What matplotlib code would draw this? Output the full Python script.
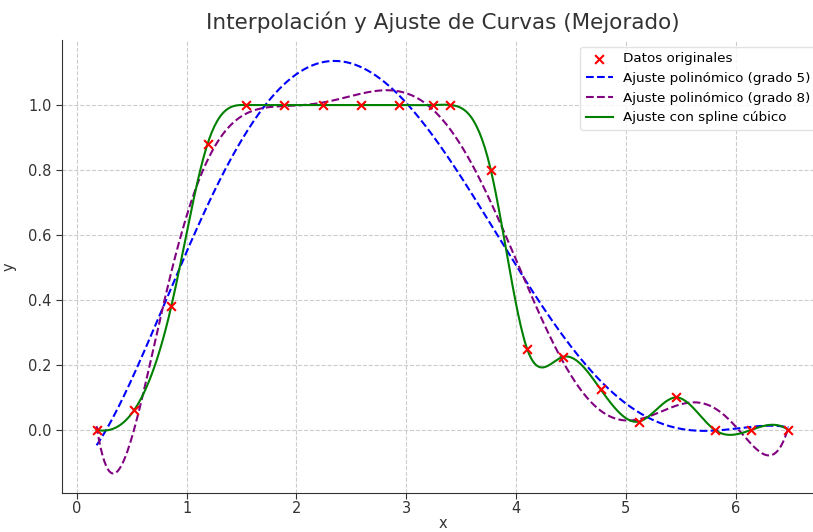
import numpy as np
import matplotlib
matplotlib.use("Agg")
import matplotlib.pyplot as plt

# Data
x_data = [0.18, 0.52, 0.86, 1.19, 1.54, 1.89, 2.24, 2.59, 2.93, 3.24,
          3.40, 3.77, 4.10, 4.43, 4.77, 5.12, 5.46, 5.81, 6.14, 6.48]
y_data = [0.0, 0.06, 0.38, 0.88, 1.0, 1.0, 1.0, 1.0, 1.0, 1.0,
          1.0, 0.80, 0.25, 0.225, 0.125, 0.026, 0.10, 0.0, 0.0, 0.0]
x_ticks = [0, 1, 2, 3, 4, 5, 6]
y_ticks = [0.0, 0.2, 0.4, 0.6, 0.8, 1.0]

x = np.array(x_data)
y = np.array(y_data)


def not_a_knot_spline(x, y, xs):
    n = len(x)
    dx = np.diff(x)
    slope = np.diff(y) / dx
    A = np.zeros((n, n))
    b = np.zeros(n)
    for i in range(1, n - 1):
        A[i, i - 1] = dx[i]
        A[i, i] = 2 * (dx[i - 1] + dx[i])
        A[i, i + 1] = dx[i - 1]
        b[i] = 3 * (dx[i] * slope[i - 1] + dx[i - 1] * slope[i])
    d = x[2] - x[0]
    A[0, 0] = dx[1]
    A[0, 1] = d
    b[0] = ((dx[0] + 2 * d) * dx[1] * slope[0] + dx[0] ** 2 * slope[1]) / d
    d = x[-1] - x[-3]
    A[-1, -1] = dx[-2]
    A[-1, -2] = d
    b[-1] = (dx[-1] ** 2 * slope[-2] + (2 * d + dx[-1]) * dx[-2] * slope[-1]) / d
    s = np.linalg.solve(A, b)
    idx = np.clip(np.searchsorted(x, xs) - 1, 0, n - 2)
    h = dx[idx]
    t = (xs - x[idx]) / h
    h00 = 2 * t**3 - 3 * t**2 + 1
    h10 = t**3 - 2 * t**2 + t
    h01 = -2 * t**3 + 3 * t**2
    h11 = t**3 - t**2
    return h00 * y[idx] + h10 * h * s[idx] + h01 * y[idx + 1] + h11 * h * s[idx + 1]


xs = np.linspace(x.min(), x.max(), 500)
p5 = np.polyval(np.polyfit(x, y, 5), xs)
p8 = np.polyval(np.polyfit(x, y, 8), xs)
sp = not_a_knot_spline(x, y, xs)

fig = plt.figure(figsize=(8.13, 5.32), dpi=100)
ax = fig.add_axes([62 / 813, 39 / 532, 761 / 813, 453 / 532])

ax.scatter(x, y, color="red", marker="x", s=40, linewidths=1.5, label="Datos originales", zorder=5)
ax.plot(xs, p5, "--", color="blue", lw=1.5, label="Ajuste polinómico (grado 5)")
ax.plot(xs, p8, "--", color="purple", lw=1.5, label="Ajuste polinómico (grado 8)")
ax.plot(xs, sp, "-", color="green", lw=1.5, label="Ajuste con spline cúbico")

ax.set_xlim(-0.135, 6.795)
ax.set_ylim(-0.194, 1.2)
ax.set_xticks(x_ticks)
ax.set_yticks(y_ticks)
ax.set_xticklabels([str(v) for v in x_ticks])
ax.set_yticklabels([f"{v:.1f}" for v in y_ticks])
ax.grid(True, linestyle="--", color="#cccccc", linewidth=0.8)
ax.spines["top"].set_visible(False)
ax.spines["right"].set_visible(False)
ax.spines["left"].set_color("#333333")
ax.spines["bottom"].set_color("#333333")
ax.tick_params(colors="#333333", labelsize=10.5, length=4)
ax.tick_params(axis="x", pad=1.5)

ax.set_title("Interpolación y Ajuste de Curvas (Mejorado)", fontsize=15.5, color="#333333", pad=8)
ax.set_xlabel("x", fontsize=10.5, color="#333333", labelpad=0)
ax.set_ylabel("y", fontsize=10.5, color="#333333", labelpad=8)

leg = ax.legend(loc="upper right", fontsize=9.7, frameon=True)
leg.get_frame().set_edgecolor("#dddddd")

fig.savefig("out.png", dpi=100)
